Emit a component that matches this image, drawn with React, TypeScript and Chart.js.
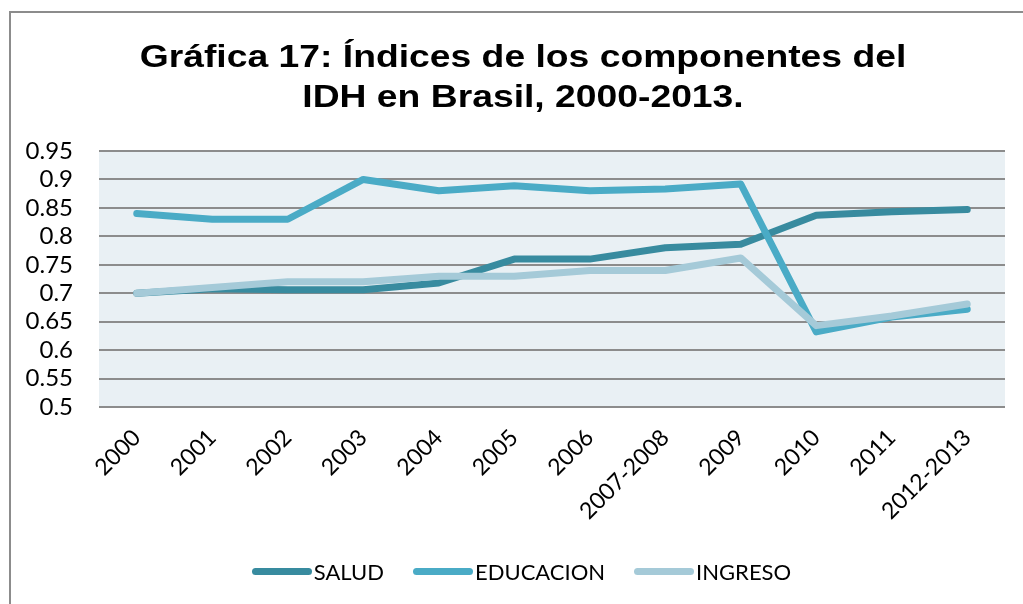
import React, { useEffect, useRef } from "react";
import { Chart, registerables } from "chart.js";

Chart.register(...registerables);

const categories = ["2000", "2001", "2002", "2003", "2004", "2005", "2006", "2007-2008", "2009", "2010", "2011", "2012-2013"];
const salud = [0.700, 0.708, 0.706, 0.706, 0.718, 0.760, 0.760, 0.780, 0.786, 0.837, 0.843, 0.847];
const educacion = [0.840, 0.830, 0.830, 0.900, 0.880, 0.889, 0.880, 0.883, 0.892, 0.632, 0.658, 0.672];
const ingreso = [0.700, 0.710, 0.720, 0.720, 0.730, 0.730, 0.740, 0.740, 0.762, 0.643, 0.660, 0.681];
const yTicks = [0.5, 0.55, 0.6, 0.65, 0.7, 0.75, 0.8, 0.85, 0.9, 0.95];
const titleLines = ["Gráfica 17: Índices de los componentes del", "IDH en Brasil, 2000-2013."];

const C_SALUD = "#388B9F";
const C_EDU = "#4AABC6";
const C_ING = "#A5CAD8";

const legendItems = [
  { label: "SALUD", color: C_SALUD },
  { label: "EDUCACION", color: C_EDU },
  { label: "INGRESO", color: C_ING },
];

const plotBg = {
  id: "plotBg",
  beforeDraw(chart: any) {
    const { ctx, chartArea } = chart;
    ctx.save();
    ctx.fillStyle = "#E9F0F4";
    ctx.fillRect(chartArea.left, chartArea.top, chartArea.right - chartArea.left, chartArea.bottom - chartArea.top);
    ctx.restore();
  },
};

export default function App() {
  const ref = useRef<HTMLCanvasElement | null>(null);
  useEffect(() => {
    if (!ref.current) return;
    const line = (label: string, data: number[], color: string, order: number) => ({
      label,
      data,
      borderColor: color,
      backgroundColor: color,
      borderWidth: 7,
      borderCapStyle: "round",
      borderJoinStyle: "round",
      pointRadius: 0,
      tension: 0,
      order,
    });
    const chart = new Chart(ref.current, {
      type: "line",
      data: {
        labels: categories,
        datasets: [
          line("SALUD", salud, C_SALUD, 3),
          line("EDUCACION", educacion, C_EDU, 2),
          line("INGRESO", ingreso, C_ING, 1),
        ] as any,
      },
      options: {
        animation: false,
        responsive: false,
        layout: { padding: { left: 0, right: 18, top: 151, bottom: 0 } },
        plugins: {
          legend: { display: false },
          tooltip: { enabled: false },
          title: { display: false },
        },
        scales: {
          x: {
            offset: true,
            grid: { display: false },
            border: { display: false },
            ticks: {
              autoSkip: false,
              minRotation: 45,
              maxRotation: 45,
              color: "#000",
              padding: 9,
              font: { family: "Lato, 'Open Sans', sans-serif", size: 23 },
            },
            afterFit(scale: any) {
              scale.height = 197;
            },
          },
          y: {
            min: 0.5,
            max: 0.95,
            afterBuildTicks(scale: any) {
              scale.ticks = yTicks.map((v) => ({ value: v }));
            },
            grid: { color: "#8C8C8C", lineWidth: 2, drawTicks: false },
            border: { display: false },
            ticks: {
              autoSkip: false,
              color: "#000",
              padding: 26,
              font: { family: "Lato, 'Open Sans', sans-serif", size: 24 },
              callback: (v: any) => String(Number(Number(v).toFixed(2))),
            },
            afterFit(scale: any) {
              scale.width = 99;
            },
          },
        },
      },
      plugins: [plotBg],
    } as any);
    return () => chart.destroy();
  }, []);

  return (
    <div style={{ position: "absolute", left: 0, top: 0, width: 1023, height: 604, overflow: "hidden", background: "#fff" }}>
      <div style={{ position: "absolute", left: 9, top: 11, width: 1100, height: 700, border: "2px solid #8C8C8C" }} />
      <canvas ref={ref} width={1023} height={604} style={{ position: "absolute", left: 0, top: 0, width: 1023, height: 604 }} />
      <div
        style={{
          position: "absolute",
          left: 23,
          top: 36,
          width: 1000,
          textAlign: "center",
          fontFamily: "'Liberation Sans', Arial, sans-serif",
          fontWeight: "bold",
          fontSize: 32,
          lineHeight: "40px",
          color: "#000",
          transform: "scaleX(1.165)",
          transformOrigin: "500px 0",
        }}
      >
        {titleLines.map((t) => (
          <div key={t}>{t}</div>
        ))}
      </div>
      <div
        style={{
          position: "absolute",
          left: 0,
          top: 556,
          width: 1023,
          height: 30,
          display: "flex",
          justifyContent: "center",
          alignItems: "center",
          fontFamily: "Lato, 'Open Sans', sans-serif",
          fontSize: 22,
          color: "#000",
          paddingLeft: 20,
          boxSizing: "border-box",
        }}
      >
        {legendItems.map((it, i) => (
          <div key={it.label} style={{ display: "flex", alignItems: "center", marginLeft: i === 0 ? 0 : 29 }}>
            <span style={{ display: "inline-block", width: 60, height: 7, borderRadius: 4, background: it.color, marginRight: 2 }} />
            <span>{it.label}</span>
          </div>
        ))}
      </div>
    </div>
  );
}
